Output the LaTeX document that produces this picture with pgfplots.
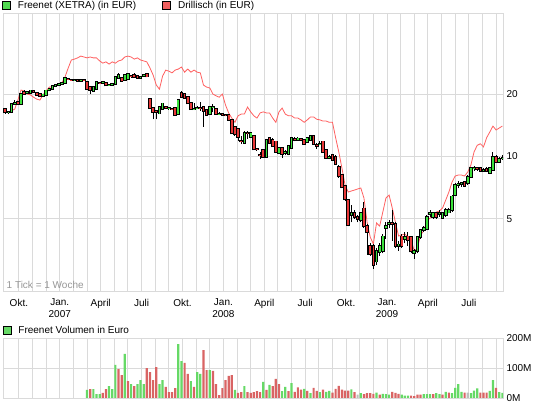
\documentclass[border=0pt]{standalone}
\usepackage{fontspec}
\setmainfont{Liberation Sans}
\usepackage{pgfplots}
\usepackage{pgfplotstable}
\pgfplotsset{compat=1.18}
\definecolor{gridc}{RGB}{218,218,218}
\definecolor{cgreen}{RGB}{60,226,60}
\definecolor{cred}{RGB}{232,56,56}
\definecolor{dline}{RGB}{255,96,96}
\definecolor{legg}{RGB}{80,216,80}
\definecolor{legr}{RGB}{240,96,96}
\definecolor{vgreen}{RGB}{102,217,102}
\definecolor{vred}{RGB}{217,100,100}
\definecolor{vgray}{RGB}{190,190,190}
\definecolor{notegray}{RGB}{150,150,150}

\pgfplotstableread{
j o h l c
1 16.3 16.6 16.0 16.4
2 16.4 18.0 16.3 17.9
3 17.9 18.7 17.8 18.2
5 17.9 20.3 17.8 20.1
7 20.3 20.6 20.1 20.4
8 20.2 21.0 20.1 20.8
12 19.5 20.0 19.3 19.9
13 19.8 20.9 19.7 20.8
14 20.8 21.3 20.6 21.1
15 21.1 22.0 21.0 21.9
16 21.9 22.3 21.8 22.1
17 22.1 22.5 22.0 22.3
18 22.3 22.8 22.2 22.6
19 22.6 24.0 22.5 23.8
22 23.4 23.6 23.2 23.45
24 23.2 23.5 23.1 23.35
28 20.7 21.7 20.6 21.6
29 21.1 22.9 21.0 22.8
31 22.6 23.0 22.5 22.8
33 22.1 22.4 21.9 22.2
34 22.2 22.5 22.0 22.3
35 22.4 24.3 22.2 24.2
36 23.9 25.3 23.7 24.8
38 23.3 24.8 23.2 24.7
39 23.7 25.1 23.5 24.9
43 24.0 24.4 23.8 24.1
44 24.5 25.0 24.4 24.7
49 16.1 17.4 16.0 17.3
50 16.9 18.1 16.8 18.0
52 17.1 17.3 16.8 17.15
55 16.0 18.8 15.9 18.7
60 16.9 18.0 16.7 17.0
61 17.1 17.5 16.9 17.2
65 15.95 17.6 15.9 17.4
66 17.3 17.9 16.3 17.4
68 16.0 16.3 15.8 16.06
76 11.6 13.2 11.5 13.0
78 12.4 13.1 12.3 13.0
83 9.95 12.1 9.9 12.0
87 10.4 11.1 10.3 11.0
89 10.4 10.7 10.2 10.5
90 10.25 11.3 10.1 11.2
91 11.0 12.4 10.9 12.3
93 12.0 12.4 11.9 12.2
96 11.7 12.4 11.6 12.3
97 12.0 12.6 11.9 12.5
100 11.4 11.8 11.3 11.5
103 9.85 10.2 9.7 9.9
110 5.2 5.8 4.8 5.3
113 4.9 5.4 4.8 5.3
118 3.1 3.6 3.0 3.5
119 3.45 3.8 3.3 3.7
120 3.5 4.2 3.4 4.1
121 4.5 4.8 4.0 4.6
122 4.7 4.9 4.5 4.76
125 3.7 3.9 3.5 3.75
127 4.0 4.3 3.8 4.07
130 3.4 3.55 3.2 3.5
131 3.47 4.1 3.4 4.07
132 4.07 4.45 4.0 4.4
133 4.4 4.6 4.3 4.5
134 4.45 5.2 4.4 5.1
135 5.25 5.5 5.1 5.3
136 5.1 5.4 5.0 5.35
138 5.25 5.5 5.1 5.3
139 5.05 5.4 5.0 5.3
140 5.2 5.6 5.1 5.5
141 5.35 5.6 5.3 5.5
142 5.5 6.5 5.4 6.4
143 6.5 7.4 6.4 7.3
144 7.3 7.6 7.0 7.35
145 7.35 7.5 7.1 7.4
147 7.4 8.1 7.3 7.97
148 7.97 8.9 7.9 8.75
149 8.75 9.0 8.5 8.8
152 8.5 8.8 8.4 8.6
154 8.3 8.9 8.2 8.8
155 8.6 10.5 8.5 9.95
157 9.4 9.9 9.3 9.7
158 9.75 10.1 9.6 9.8
}\up

\pgfplotstableread{
j o h l c
0 16.9 17.1 16.1 16.3
4 18.4 18.6 17.8 17.9
6 20.5 20.9 19.8 19.9
9 20.6 20.8 20.2 20.4
10 20.3 20.5 19.7 19.8
11 20.1 20.2 19.4 19.5
20 23.7 23.9 23.3 23.5
21 23.5 23.7 23.2 23.4
23 23.3 23.5 23.0 23.2
25 23.3 23.5 23.1 23.25
26 22.8 23.0 21.0 21.1
27 21.6 21.8 20.0 20.9
30 22.7 22.9 22.4 22.6
32 22.6 22.8 21.9 22.0
37 24.0 24.3 23.0 23.1
40 24.5 24.7 24.0 24.4
41 24.8 25.2 24.0 24.2
42 24.4 24.7 23.9 24.0
45 24.9 25.1 24.1 24.3
46 19.0 19.1 17.0 17.1
47 17.1 17.3 15.1 16.4
48 16.5 16.7 15.1 16.4
51 17.4 17.6 17.0 17.1
53 17.0 17.2 16.7 16.9
54 17.2 17.3 15.7 15.8
56 20.2 20.7 19.1 19.4
57 20.0 20.3 19.0 19.1
58 19.4 19.6 17.9 18.0
59 18.1 18.2 16.8 16.9
62 17.2 18.3 16.6 17.1
63 17.4 17.6 13.9 16.6
64 16.7 16.9 15.8 15.9
67 16.9 17.2 15.9 16.0
69 16.0 16.2 15.7 15.9
70 15.9 16.1 15.6 15.8
71 15.9 16.0 14.9 15.0
72 15.0 15.1 12.8 12.9
73 13.9 14.0 12.6 12.8
74 13.5 13.7 11.9 12.4
75 11.9 12.5 11.5 11.8
77 13.0 13.3 12.1 12.95
79 12.6 12.7 10.7 10.8
80 10.9 11.0 10.6 10.8
81 10.2 10.5 9.7 10.15
82 10.7 10.8 9.9 9.95
84 12.3 12.4 11.5 11.6
85 12.0 12.2 11.1 11.2
86 11.8 11.9 10.4 10.5
88 11.0 11.1 9.8 10.25
92 12.1 12.4 11.8 12.0
94 12.1 12.3 11.8 12.0
95 12.0 12.1 11.4 11.5
98 12.5 12.6 11.4 11.5
99 11.3 11.6 10.9 11.2
101 11.8 11.9 10.4 10.5
102 10.7 10.8 9.8 9.85
104 10.15 10.3 9.5 9.6
105 9.95 10.1 9.1 9.2
106 8.9 9.1 7.9 8.0
107 8.1 8.2 7.0 7.1
108 7.2 7.3 6.1 6.2
109 6.15 6.2 4.58 4.66
111 5.3 5.5 5.0 5.1
112 5.1 5.2 4.8 5.0
114 5.6 6.0 4.5 4.6
115 4.6 4.7 3.34 4.3
116 3.7 3.8 3.3 3.36
117 3.7 3.75 2.85 2.99
123 4.75 5.5 3.9 4.7
124 4.7 4.8 3.6 3.7
126 4.1 4.2 3.6 3.7
128 4.1 4.3 3.7 3.95
129 4.07 4.1 3.4 3.47
137 5.3 5.4 5.0 5.1
146 7.5 7.6 7.1 7.2
150 8.8 8.9 8.5 8.7
151 8.8 8.9 8.4 8.5
153 8.7 8.9 8.4 8.5
156 9.95 10.2 9.3 9.4
}\down

\pgfplotstableread{
j v
0 16.4
1 16.4
2 16.6
3 16.9
4 18.7
5 20.9
6 20.7
7 20.0
8 19.8
9 19.3
10 18.9
11 18.7
12 19.8
13 20.7
14 21.6
15 21.6
16 21.9
17 22.1
18 22.6
19 24.2
20 26.7
21 29.2
22 29.5
23 29.9
24 30.5
25 30.2
26 29.9
27 30.2
28 29.9
29 29.9
30 28.9
31 28.2
32 28.6
33 27.9
34 28.6
35 28.2
36 28.9
37 29.2
38 30.2
39 30.5
40 30.2
41 29.5
42 29.9
43 29.2
44 28.9
45 28.6
46 26.7
47 24.7
48 22.1
49 21.1
50 24.4
51 26.1
52 25.8
53 25.3
54 26.1
55 26.4
56 27.0
57 25.5
58 26.4
59 25.5
60 26.1
61 25.5
62 25.3
63 22.1
64 21.6
65 21.4
66 20.0
67 19.6
68 19.3
69 20.0
70 17.7
71 16.2
72 15.3
73 14.6
74 15.7
75 16.0
76 16.0
77 17.3
78 16.4
79 15.7
80 15.3
81 16.2
82 16.4
83 16.2
84 16.2
85 15.3
86 14.6
87 16.4
88 17.1
89 16.0
90 15.7
91 15.7
92 15.3
93 15.3
94 15.0
95 14.6
96 15.0
97 15.5
98 15.5
99 15.1
100 15.0
101 14.8
102 14.8
103 14.6
104 14.6
105 12.3
106 10.5
107 8.78
108 7.27
109 6.72
110 6.80
111 6.87
112 6.95
113 7.03
114 6.29
115 4.81
116 4.07
117 3.77
118 4.76
119 4.60
120 5.38
121 6.29
122 6.50
123 5.63
124 4.81
125 4.12
126 4.17
127 4.21
128 4.07
129 3.94
130 3.49
131 3.60
132 4.17
133 4.36
134 4.87
135 5.03
136 5.20
137 5.38
138 5.44
139 5.63
140 6.15
141 6.72
142 7.51
143 8.03
144 8.12
145 8.12
146 8.03
147 8.40
148 9.08
149 10.5
150 11.3
151 11.5
152 11.1
153 12.3
154 13.1
155 14.0
156 13.4
157 13.7
158 14.0
}\drill

\pgfplotsset{
  chartbase/.style={
    scale only axis, width=500bp,
    xmin=-0.72, xmax=158.2,
    axis line style={gridc, line width=1bp},
    major tick length=0pt, minor tick length=0pt,
    grid style={gridc, line width=1bp},
    minor grid style={gridc, line width=1bp},
    major grid style={gridc, line width=1bp},
    xmajorgrids, xminorgrids, ymajorgrids,
    minor xtick={4.333,8.667,13,17.333,21.667,26,30.333,34.667,39,43.333,47.667,52,56.333,60.667,65,69.333,73.667,78,82.333,86.667,91,95.333,99.667,104,108.333,112.667,117,121.333,125.667,130,134.333,138.667,143,147.333,151.667,156},
    yticklabel pos=right,
    yticklabel style={anchor=west},
    tick label style={font=\fontsize{10bp}{11.5bp}\selectfont, text=black},
    legend style={draw=none, fill=none, inner sep=0pt, outer sep=0pt,
      font=\fontsize{10bp}{12bp}\selectfont,
      nodes={inner sep=0pt},
      /tikz/every odd column/.append style={column sep=7bp},
      /tikz/every even column/.append style={column sep=26bp}},
    legend cell align=left,
    legend columns=2,
  },
  candle/.style={forget plot, draw=none, mark=none, no markers,
    error bars/y dir=plus, error bars/y explicit, error bars/error mark=none},
}

\begin{document}
\begin{tikzpicture}
\useasboundingbox (0,0) rectangle (545bp,407bp);

\begin{axis}[chartbase,
  at={(3bp,115.7bp)}, anchor=south west, height=278bp,
  ymode=log, ymin=2.227, ymax=49.1,
  ytick={5,10,20}, yticklabels={5,10,20},
  yminorgrids=false, minor ytick={},
  xtick={4.333,17.333,30.333,43.333,56.333,69.333,82.333,95.333,108.333,121.333,134.333,147.333},
  xticklabels={Okt.,{Jan.\\2007},April,Juli,Okt.,{Jan.\\2008},April,Juli,Okt.,{Jan.\\2009},April,Juli},
  xticklabel style={align=center, anchor=north, yshift=-4bp},
  legend style={at={(axis description cs:0,1)}, anchor=south west, xshift=-1bp, yshift=3.3bp},
]
\addlegendimage{legend image code/.code={\draw[fill=legg, draw=black, line width=0.9bp] (0bp,-4bp) rectangle (8bp,4bp);}}
\addlegendentry{Freenet (XETRA) (in EUR)}
\addlegendimage{legend image code/.code={\draw[fill=legr, draw=black, line width=0.9bp] (0bp,-4bp) rectangle (8bp,4bp);}}
\addlegendentry{Drillisch (in EUR)}

\addplot[forget plot, dline, line width=0.8bp, mark=none] table[x=j, y=v] {\drill};

% wicks
\addplot[candle, error bars/error bar style={draw=black, line width=1bp}]
  table[x=j, y=l, y error plus expr=\thisrow{h}-\thisrow{l}] {\up};
\addplot[candle, error bars/error bar style={draw=black, line width=1bp}]
  table[x=j, y=l, y error plus expr=\thisrow{h}-\thisrow{l}] {\down};
% body outlines (1 px border above and below the body)
\addplot[candle, error bars/error bar style={draw=black, line width=3.6bp}]
  table[x=j, y expr=\thisrow{o}*0.99, y error plus expr=\thisrow{c}*1.01-\thisrow{o}*0.99] {\up};
\addplot[candle, error bars/error bar style={draw=black, line width=3.6bp}]
  table[x=j, y expr=\thisrow{c}*0.99, y error plus expr=\thisrow{o}*1.01-\thisrow{c}*0.99] {\down};
% body fills
\addplot[candle, error bars/error bar style={draw=cgreen, line width=1.7bp}]
  table[x=j, y=o, y error plus expr=\thisrow{c}-\thisrow{o}] {\up};
\addplot[candle, error bars/error bar style={draw=cred, line width=1.7bp}]
  table[x=j, y=c, y error plus expr=\thisrow{o}-\thisrow{c}] {\down};

\node[anchor=base west, inner sep=0pt, text=notegray, font=\fontsize{10bp}{12bp}\selectfont]
  at (axis description cs:0,0) [xshift=3.5bp, yshift=3bp] {1 Tick = 1 Woche};
\end{axis}

\begin{axis}[chartbase,
  at={(3bp,9bp)}, anchor=south west, height=59.5bp,
  ymin=0, ymax=200,
  ytick={0,100,200}, yticklabels={0M,100M,200M},
  xtick={4.333,17.333,30.333,43.333,56.333,69.333,82.333,95.333,108.333,121.333,134.333,147.333},
  xticklabels={},
  legend style={at={(axis description cs:0,1)}, anchor=south west, xshift=-0.5bp, yshift=3.5bp},
]
\addlegendimage{legend image code/.code={\draw[fill=vgreen, draw=black, line width=0.9bp] (0bp,-4bp) rectangle (8bp,4bp);}}
\addlegendentry{Freenet Volumen in Euro}
\addplot[forget plot, ybar, bar width=2.2bp, bar shift=0pt, fill=vgreen, draw=none] coordinates {
(26,27) (28,30) (29,13) (30,13) (33,40) (34,30) (35,111) (38,148) (40,47) (42,47) (43,60) (44,47) (49,47) (50,60) (55,181) (56,124) (59,57) (61,87) (62,81) (65,94) (73,27) (76,40) (82,54) (84,44) (88,23) (89,37) (91,50) (95,31) (97,16) (100,20) (102,21) (103,24) (110,29) (113,16) (118,18) (120,14) (121,13) (122,11) (126,11) (127,8) (128,8) (133,13) (134,13) (135,13) (137,16) (138,13) (140,21) (142,16) (143,34) (144,47) (145,21) (148,16) (149,25) (150,32) (154,24) (155,60) (157,20) (158,17)};
\addplot[forget plot, ybar, bar width=2.2bp, bar shift=0pt, fill=vred, draw=none] coordinates {
(27,30) (31,17) (32,30) (36,97) (37,77) (39,57) (41,40) (45,100) (46,87) (47,60) (48,104) (51,37) (52,20) (53,20) (54,33) (57,118) (58,81) (60,37) (63,161) (64,94) (66,91) (67,47) (68,10) (69,33) (70,60) (71,74) (72,77) (74,17) (75,20) (77,20) (78,17) (79,20) (80,23) (81,20) (83,27) (85,40) (86,64) (87,47) (90,23) (92,21) (93,36) (94,28) (96,24) (98,34) (99,24) (101,28) (104,18) (105,31) (106,41) (107,28) (108,25) (109,25) (111,20) (114,13) (115,16) (116,16) (117,14) (119,11) (123,21) (124,17) (125,14) (129,8) (130,6) (131,11) (132,11) (136,13) (139,11) (141,18) (146,18) (151,18) (152,18) (153,18) (156,34)};
\addplot[forget plot, ybar, bar width=2.2bp, bar shift=0pt, fill=vgray, draw=none] coordinates {
(112,11) (147,18)};
\end{axis}
\end{tikzpicture}
\end{document}
